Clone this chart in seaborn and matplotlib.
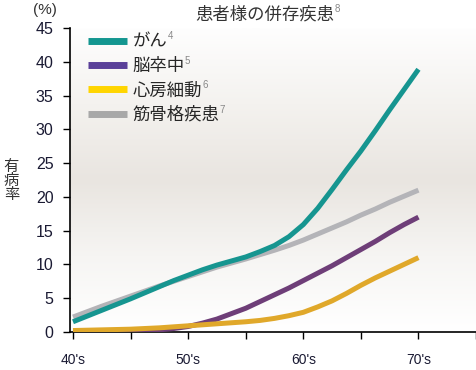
import numpy as np
import pandas as pd
import seaborn as sns
import matplotlib.pyplot as plt
from matplotlib.colors import LinearSegmentedColormap
from matplotlib.lines import Line2D

ages = [40, 41.25, 42.5, 43.75, 45, 46.25, 47.5, 48.75, 50, 51.25, 52.5, 53.75, 55,
        56.25, 57.5, 58.75, 60, 61.25, 62.5, 63.75, 65, 66.25, 67.5, 68.75, 70]
cancer = [1.5, 2.35, 3.2, 4.05, 4.9, 5.8, 6.7, 7.6, 8.4, 9.2, 9.9, 10.5, 11.1,
          11.9, 12.8, 14.1, 15.9, 18.3, 21.1, 24.0, 26.8, 29.8, 32.9, 35.9, 38.9]
stroke = [0.1, 0.1, 0.1, 0.12, 0.15, 0.2, 0.3, 0.5, 0.8, 1.3, 1.9, 2.7, 3.5,
          4.5, 5.5, 6.5, 7.6, 8.7, 9.8, 11.0, 12.2, 13.4, 14.7, 15.9, 17.0]
afib = [0.2, 0.25, 0.3, 0.35, 0.4, 0.5, 0.6, 0.75, 0.9, 1.05, 1.2, 1.35, 1.5,
        1.7, 2.0, 2.4, 2.9, 3.7, 4.6, 5.7, 6.9, 8.0, 9.0, 10.0, 11.0]
musculo = [2.2, 3.0, 3.8, 4.55, 5.3, 6.05, 6.8, 7.5, 8.2, 8.9, 9.6, 10.2, 10.8,
           11.45, 12.1, 12.8, 13.6, 14.5, 15.4, 16.3, 17.3, 18.2, 19.2, 20.1, 21.0]

series_names = ['がん', '脳卒中', '心房細動', '筋骨格疾患']
series_refs = ['4', '5', '6', '7']
line_colors = ['#169590', '#6E3E78', '#E0A82A', '#B4B4B8']
legend_colors = ['#139690', '#5A4099', '#FFD500', '#A8A8A8']
xtick_pos = [40, 50, 60, 70]
xtick_labels = ["40's", "50's", "60's", "70's"]

df = pd.DataFrame({'age': ages, 'がん': cancer, '脳卒中': stroke,
                   '心房細動': afib, '筋骨格疾患': musculo})
long_df = df.melt(id_vars='age', var_name='disease', value_name='rate')

sns.set_style('ticks')
plt.rcParams['font.family'] = ['Noto Sans CJK JP', 'DejaVu Sans']

fig = plt.figure(figsize=(4.77, 3.70), dpi=100)
ax = fig.add_axes([0.147, 0.103, 0.851, 0.821])

# soft background gradient
bg = LinearSegmentedColormap.from_list('bg', ['#FFFFFF', '#F6F5F3', '#E9E5E0', '#F4F2EF', '#FEFEFE'])
grad = np.linspace(0, 1, 256).reshape(-1, 1)
ax.imshow(grad, cmap=bg, extent=[0, 1, 0, 1], transform=ax.transAxes,
          aspect='auto', zorder=0, origin='lower')

draw_order = ['筋骨格疾患', 'がん', '脳卒中', '心房細動']
palette = dict(zip(series_names, line_colors))
sns.lineplot(data=long_df, x='age', y='rate', hue='disease', hue_order=draw_order,
             palette=palette, linewidth=3.6, legend=False, ax=ax, zorder=3)
for ln in ax.get_lines():
    ln.set_solid_capstyle('butt')
    ln.set_solid_joinstyle('round')

ticks = np.arange(40, 76, 5)
ax.set_xlim(39.75, 75)
ax.set_ylim(0, 45)
ax.set_xticks(ticks)
ax.set_xticklabels([xtick_labels[xtick_pos.index(t)] if t in xtick_pos else '' for t in ticks],
                   fontsize=10, family='Liberation Sans', color='#1a1a33')
ax.set_yticks(np.arange(0, 46, 5))
ax.set_yticklabels([str(v) for v in np.arange(0, 46, 5)], fontsize=11.5,
                   family='Liberation Sans', color='#1a1a33')
ax.tick_params(axis='x', length=5, width=1, pad=10, color='black')
ax.tick_params(axis='y', length=5, width=1, pad=7, color='black')
ax.set_xlabel('')
ax.set_ylabel('')
for s in ['top', 'right']:
    ax.spines[s].set_visible(False)
for s in ['left', 'bottom']:
    ax.spines[s].set_linewidth(1.2)
    ax.spines[s].set_color('black')

handles = [Line2D([0], [0], color=c, linewidth=5, solid_capstyle='butt') for c in legend_colors]
leg = ax.legend(handles, series_names, loc='upper left', bbox_to_anchor=(0.045, 0.985),
                frameon=False, fontsize=12.5, handlelength=2.2, handletextpad=0.35,
                labelspacing=0.37, borderpad=0, borderaxespad=0)

title = fig.text(0.555, 0.962, '患者様の併存疾患', ha='center', va='center',
                 fontsize=12.5, color='#333333')
fig.text(0.095, 0.972, '(%)', ha='center', va='center', fontsize=11,
         family='Liberation Sans', color='#333333')
fig.text(0.024, 0.512, '有\n病\n率', ha='center', va='center', fontsize=11,
         color='#333333', linespacing=0.8)

# footnote marks, placed once the legend layout is known
fig.canvas.draw()
for txt, ref in zip(leg.get_texts() + [title], series_refs + ['8']):
    ax.annotate(ref, xy=(1, 1), xycoords=txt, xytext=(0, 1), textcoords='offset points',
                fontsize=7, color='#888888', va='top', ha='left', family='Liberation Sans',
                annotation_clip=False, zorder=6)

fig.savefig('out.png', dpi=100)
